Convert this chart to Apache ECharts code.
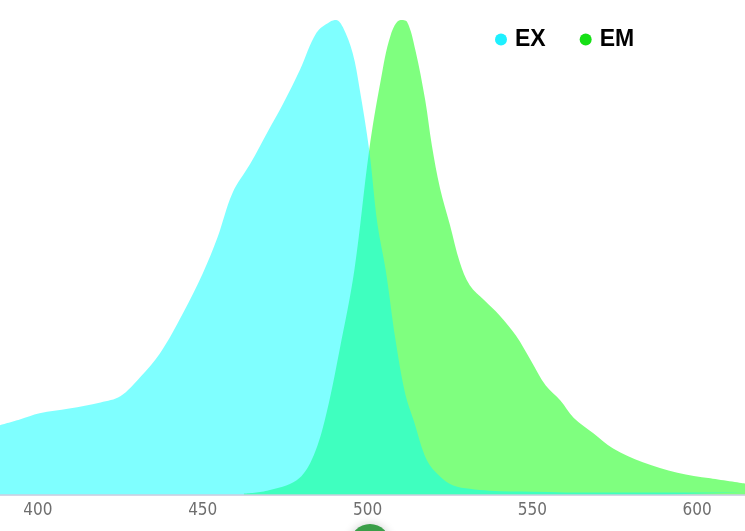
<!DOCTYPE html>
<html>
<head>
<meta charset="utf-8">
<title>EX / EM spectrum</title>
<script src="https://cdn.jsdelivr.net/npm/echarts@6/dist/echarts.min.js"></script>
<style>
    html, body { margin: 0; padding: 0; background: #fff; }
    #chart { width: 745px; height: 531px; }
</style>
</head>
<body>
<div id="chart"></div>
<script>
    // wavelength (nm) / relative intensity
    var exWave = [388.5, 394.5, 400.5, 409.5, 419, 425, 431, 437, 444, 450, 454.5, 459, 464.5, 469.5, 474.5, 479.5, 484.5, 488.5, 490.5, 492.5, 495.5, 497.5, 500.5, 503, 505.5, 508.5, 511.5, 514, 518, 522, 526, 531, 537, 550, 570, 590, 614.5];
    var exValue = [14.6, 15.8, 17.1, 18.1, 19.4, 20.7, 24.7, 29.7, 38.2, 46.6, 54.2, 63.5, 69.8, 76.2, 82.5, 89.5, 97.3, 99.6, 100, 98.5, 93, 85.9, 72.6, 57, 47.3, 32.5, 21, 15.6, 7.2, 3.8, 1.9, 1.2, 0.8, 0.6, 0.4, 0.4, 0.4];

    var emWave = [462.5, 469.5, 478.5, 483, 487, 491.5, 496, 500.5, 504, 507, 510, 512, 514.5, 517.5, 519.5, 522, 525, 528, 531, 535.5, 540, 545, 549.5, 554, 558.5, 562.5, 568.5, 574.5, 583.5, 594, 604, 614.5];
    var emValue = [0.2, 0.8, 3.0, 7.2, 15.6, 30.4, 47.3, 72.6, 87.3, 96.8, 100, 99.6, 93.7, 83.1, 73.6, 64.5, 56.8, 48.9, 44.1, 40.9, 37.8, 33.5, 28.3, 23, 19.8, 16.2, 12.9, 9.7, 6.8, 4.6, 3.4, 2.3];

    var xTicks = [400, 450, 500, 550, 600];

    function pairs(xs, ys) {
        return xs.map(function (x, i) { return [x, ys[i]]; });
    }

    var chart = echarts.init(document.getElementById('chart'));

    var option = {
        animation: false,
        backgroundColor: '#fff',
        grid: { left: 0, right: 0, top: 20, bottom: 36.5 },
        legend: {
            data: ['EX', 'EM'],
            left: 490,
            top: 23,
            icon: 'circle',
            itemWidth: 12,
            itemHeight: 12,
            itemGap: 34,
            textStyle: {
                fontFamily: 'Liberation Sans, Arial, sans-serif',
                fontWeight: 'bold',
                fontSize: 23,
                color: '#000',
                padding: [0, 0, 0, 3]
            }
        },
        xAxis: {
            type: 'value',
            min: exWave[0],
            max: exWave[exWave.length - 1],
            splitNumber: 5,
            splitLine: { show: false },
            axisTick: { show: false },
            axisLine: { lineStyle: { color: '#d3d6e6', width: 2 } },
            axisLabel: {
                showMinLabel: false,
                showMaxLabel: false,
                color: '#6e6e6e',
                fontSize: 17,
                margin: 8,
                fontFamily: 'DejaVu Sans Condensed, sans-serif',
                formatter: function (v) {
                    return xTicks.indexOf(v) >= 0 ? String(v) : '';
                }
            }
        },
        yAxis: {
            type: 'value',
            min: 0,
            max: 100,
            show: false
        },
        series: [
            {
                name: 'EM',
                type: 'line',
                data: pairs(emWave, emValue),
                smooth: 0.35,
                showSymbol: false,
                color: '#16e016',
                lineStyle: { width: 0 },
                areaStyle: { color: 'rgba(0,255,0,0.5)', opacity: 1 },
                z: 2
            },
            {
                name: 'EX',
                type: 'line',
                data: pairs(exWave, exValue),
                smooth: 0.35,
                showSymbol: false,
                color: '#1ef0ff',
                lineStyle: { width: 0 },
                areaStyle: { color: 'rgba(0,255,255,0.5)', opacity: 1 },
                z: 3
            }
        ],
        graphic: [{
            type: 'circle',
            shape: { cx: 370, cy: 544, r: 20 },
            style: {
                fill: '#3a9e48',
                shadowBlur: 10,
                shadowColor: 'rgba(0,0,0,0.2)'
            },
            z: 10
        }]
    };

    chart.setOption(option);
    window.addEventListener('resize', chart.resize);
</script>
</body>
</html>
